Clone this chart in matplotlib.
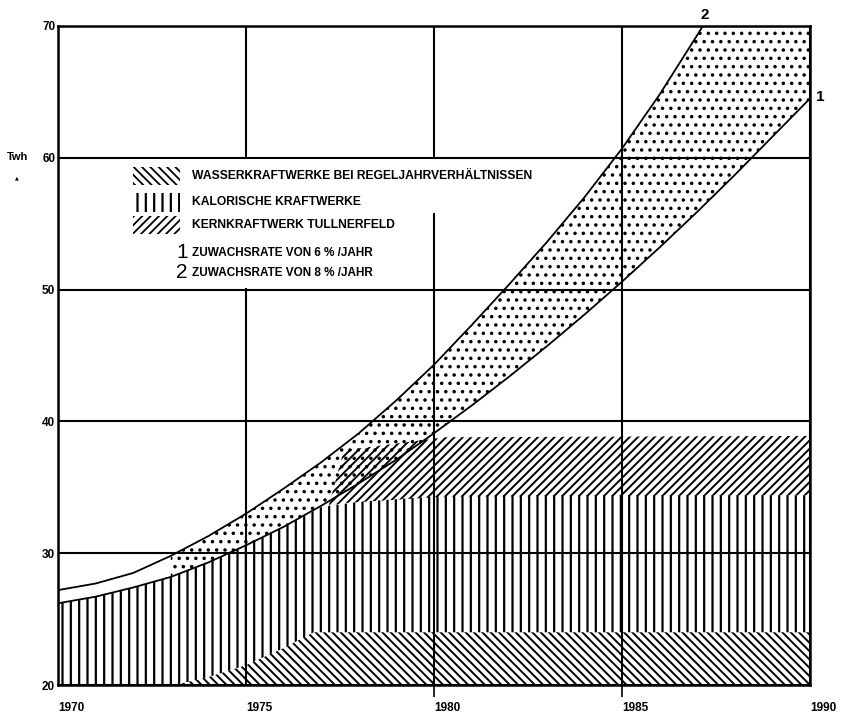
import numpy as np
import matplotlib as mpl
import matplotlib.pyplot as plt
from matplotlib.patches import Rectangle


plt.rcParams['font.family'] = ['Liberation Sans', 'DejaVu Sans']

# --- data (TWh) ---
years = np.arange(1970, 1991)

# curve 1: growth 6 %/year
growth_6 = [26.2, 26.7, 27.4, 28.2, 29.3, 30.6, 32.0, 33.6, 35.3, 37.1,
            39.1, 41.2, 43.4, 45.7, 48.1, 50.6, 53.2, 55.9, 58.7, 61.6, 64.5]

# curve 2: growth 8 %/year (leaves the chart at 70 TWh)
years_8 = [1970, 1971, 1972, 1973, 1974, 1975, 1976, 1977, 1978, 1979,
           1980, 1981, 1982, 1983, 1984, 1985, 1986, 1987, 1987.15]
growth_8 = [27.2, 27.7, 28.5, 29.8, 31.3, 33.0, 34.9, 36.9, 39.1, 41.6,
            44.3, 47.3, 50.4, 53.6, 57.0, 60.7, 64.8, 69.3, 70.0]

# caloric power stations (top of the vertical hatch)
caloric_top = [26.2, 26.7, 27.4, 28.2, 29.3, 30.6, 32.0, 33.5, 33.9, 34.1,
               34.3, 34.4, 34.4, 34.4, 34.4, 34.4, 34.4, 34.4, 34.4, 34.4, 34.4]

# hydro power stations
hydro_years = [1973.1, 1974, 1975, 1976, 1976.8, 1990]
hydro_top = [20.0, 20.6, 21.5, 22.8, 24.0, 24.0]

# nuclear power station Tullnerfeld
nuclear_years = [1977.2, 1977.6, 1980.3, 1990]
nuclear_bottom = [33.6, 33.8, 34.3, 34.4]
nuclear_top = [33.6, 37.8, 38.8, 38.9]

band_start = 1973

legend_labels = ["WASSERKRAFTWERKE BEI REGELJAHRVERHÄLTNISSEN",
                 "KALORISCHE KRAFTWERKE",
                 "KERNKRAFTWERK TULLNERFELD"]
legend_hatches = ['\\\\\\\\', '||', '////']
rate_labels = [("1", "ZUWACHSRATE VON 6 % /JAHR"),
               ("2", "ZUWACHSRATE VON 8 % /JAHR")]


def hatch_lw(artist, lw):
    if hasattr(artist, 'set_hatch_linewidth'):
        artist.set_hatch_linewidth(lw)


fig = plt.figure(figsize=(8.41, 7.14), dpi=100)
ax = fig.add_axes([58/841, 29/714, 752/841, 659/714])

# areas
cal = ax.fill_between(years, 20, caloric_top, facecolor='white',
                      edgecolor='black', hatch='||', lw=0, zorder=1)
hatch_lw(cal, 1.6)

hyd = ax.fill_between(hydro_years, 20, hydro_top, facecolor='white',
                      edgecolor='black', hatch='\\\\\\\\', lw=0, zorder=1.1)
hatch_lw(hyd, 1.4)

mask = years >= band_start
mask_8 = np.array(years_8) >= band_start
band_x = list(np.array(years_8)[mask_8]) + [1990] + list(years[mask][::-1])
band_y = list(np.array(growth_8)[mask_8]) + [70] + list(np.array(growth_6)[mask][::-1])
dots = ax.fill(band_x, band_y, facecolor='none', edgecolor='black',
               hatch='..', lw=0, zorder=1.2)[0]
hatch_lw(dots, 1.3)

nuc = ax.fill_between(nuclear_years, nuclear_bottom, nuclear_top,
                      facecolor='none', edgecolor='black', hatch='////',
                      lw=0, zorder=1.3)
hatch_lw(nuc, 1.4)

# growth curves
ax.plot(years, growth_6, color='black', lw=1.3, zorder=4)
ax.plot(years_8, growth_8, color='black', lw=1.3, zorder=4)

# axes, grid
ax.set_xlim(1970, 1990)
ax.set_ylim(20, 70)
ax.set_xticks(range(1970, 1991, 5))
ax.set_yticks(range(20, 71, 10))
ax.grid(True, color='black', lw=1.5)
ax.set_axisbelow(False)
for s in ax.spines.values():
    s.set_linewidth(1.8)

ax.tick_params(axis='y', length=0, pad=2, labelsize=8.5)
ax.tick_params(axis='x', length=8.5, width=1.2, direction='out', pad=3.5, labelsize=8.5)
for lbl in ax.get_yticklabels():
    lbl.set_fontweight('bold')
for lbl in ax.get_xticklabels():
    lbl.set_fontweight('bold')
    lbl.set_horizontalalignment('left')
for i, t in enumerate(ax.xaxis.get_major_ticks()):
    if i in (0, 1, 4):
        t.tick1line.set_visible(False)
    if i == 3:
        t.tick1line.set_linestyle(':')
        t.tick1line.set_linewidth(0.8)

fig.text(18/841, 1 - 157/714, "Twh", fontsize=8, fontweight='bold',
         ha='center', va='center')
fig.text(17/841, 1 - 178/714, "▲", fontsize=3.5, ha='center', va='center',
         family='DejaVu Sans')

# white background behind legend
ax.add_patch(Rectangle((1971.6, 50.12), 8.33, 9.76, facecolor='white',
                       edgecolor='none', zorder=2.6))
ax.add_patch(Rectangle((1979.9, 55.8), 0.3, 4.08, facecolor='white',
                       edgecolor='none', zorder=2.6))

# legend
row_y = [58.62, 56.62, 54.9]
for y, lab, h in zip(row_y, legend_labels, legend_hatches):
    r = Rectangle((1972.0, y - 0.7), 1.25, 1.4, facecolor='white',
                  edgecolor='black', hatch=h, lw=0, zorder=3)
    ax.add_patch(r)
    hatch_lw(r, 1.6 if h == '||' else 1.3)
    ax.text(1973.56, y, lab, fontsize=8.7, fontweight='bold',
            ha='left', va='center', zorder=5)

for y, (num, lab) in zip([52.8, 51.28], rate_labels):
    ax.text(1973.45, y, num, fontsize=15, ha='right', va='center', zorder=5)
    ax.text(1973.56, y, lab, fontsize=8.5, fontweight='bold',
            ha='left', va='center', zorder=5)

# curve labels
ax.text(1987.2, 70.8, "2", fontsize=11, fontweight='bold', ha='center',
        va='center', clip_on=False)
ax.text(1990.15, 64.6, "1", fontsize=11, fontweight='bold', ha='left',
        va='center', clip_on=False)

fig.savefig("out.png", dpi=100)
